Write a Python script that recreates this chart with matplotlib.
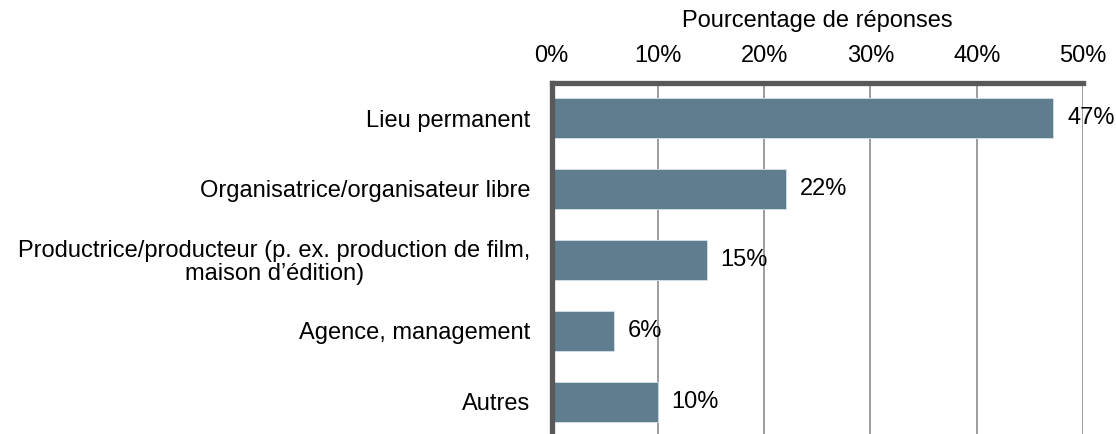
import matplotlib
matplotlib.use("Agg")
import matplotlib.pyplot as plt
from matplotlib.ticker import FuncFormatter

plt.rcParams['font.family'] = ['Liberation Sans', 'DejaVu Sans']

categories = [
    "Lieu permanent",
    "Organisatrice/organisateur libre",
    "Productrice/producteur (p. ex. production de film,\nmaison d\u2019\u00e9dition)",
    "Agence, management",
    "Autres",
]
values = [47.2, 22.1, 14.6, 5.9, 10.0]
value_labels = ["47%", "22%", "15%", "6%", "10%"]
x_ticks = [0, 10, 20, 30, 40, 50]
x_title = "Pourcentage de r\u00e9ponses"

bar_color = "#5f7d8e"
fs = 17

fig = plt.figure(figsize=(11.16, 4.34), dpi=100)
ax = fig.add_axes([551.5 / 1116, (434 - 437.5) / 434, (1083 - 551.5) / 1116, 355 / 434])

y = list(range(len(categories)))
ax.barh(y, values, height=0.57, color=bar_color, edgecolor="#d6e2ea", linewidth=0.6, zorder=3)

ax.set_xlim(0, 50)
ax.set_ylim(4.5, -0.5)
ax.set_yticks(y)
ax.set_yticklabels(categories, fontsize=fs, multialignment="center", linespacing=1.05)
ax.tick_params(axis="y", length=0, pad=15)

ax.xaxis.set_ticks_position("top")
ax.xaxis.set_label_position("top")
ax.set_xticks(x_ticks)
ax.xaxis.set_major_formatter(FuncFormatter(lambda v, p: f"{int(v)}%"))
ax.tick_params(axis="x", length=0, pad=11, labelsize=fs)
ax.set_xlabel(x_title, fontsize=fs, labelpad=13)

ax.grid(axis="x", color="#8c8c8c", linewidth=1.2, zorder=1)
ax.grid(axis="y", visible=False)

for s in ["right", "bottom"]:
    ax.spines[s].set_visible(False)
for s in ["left", "top"]:
    ax.spines[s].set_color("#595959")
    ax.spines[s].set_linewidth(3.8)
    ax.spines[s].set_zorder(4)

for yi, v, lab in zip(y, values, value_labels):
    ax.annotate(lab, xy=(v, yi), xytext=(10, 0), textcoords="offset points",
                ha="left", va="center", fontsize=fs, color="black", zorder=5)

fig.savefig("out.png", dpi=100)
